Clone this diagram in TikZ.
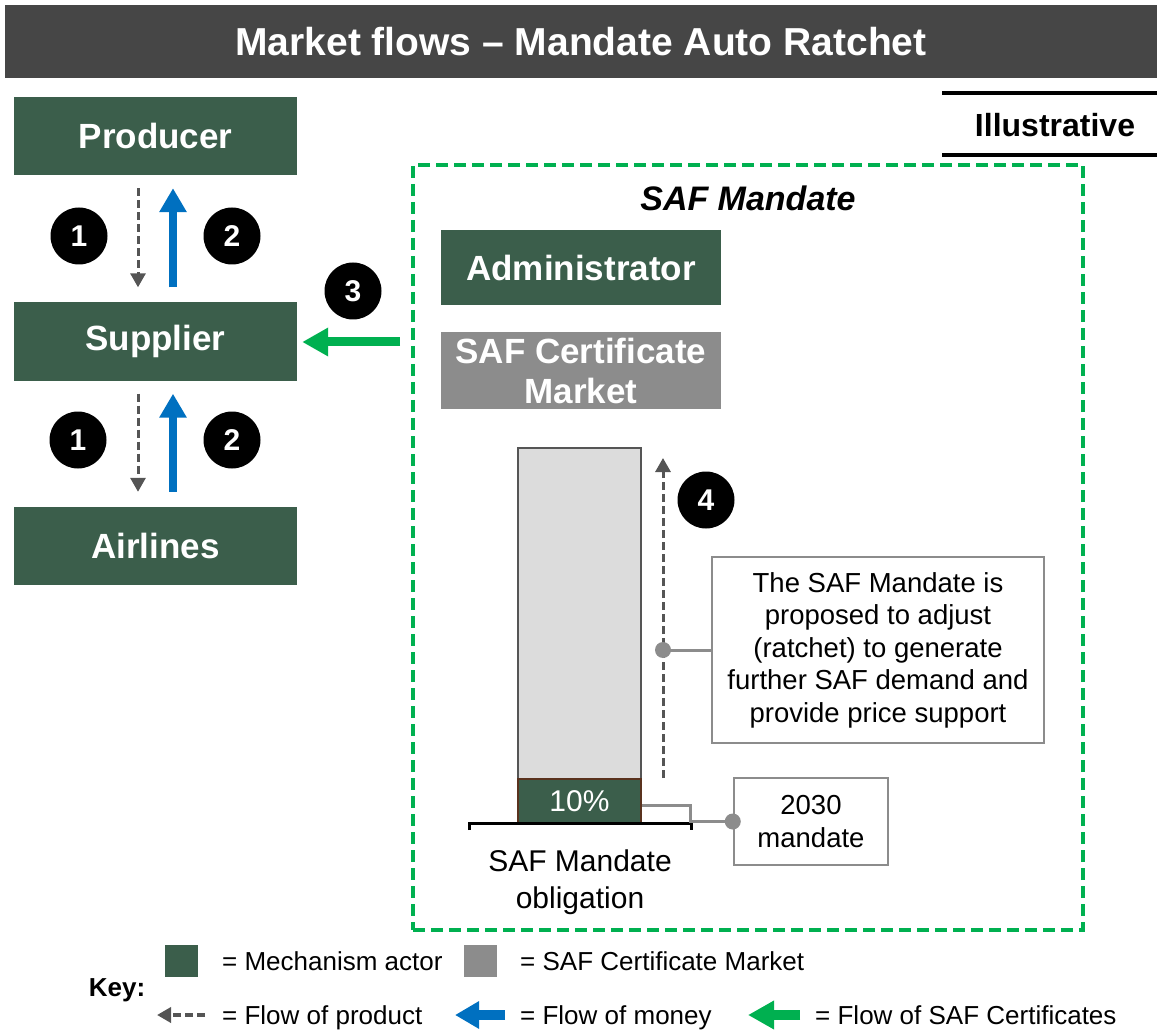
\documentclass[tikz,border=0pt]{standalone}
\usepackage{fontspec}
\setmainfont{Liberation Sans}
\usetikzlibrary{arrows.meta,positioning}

\definecolor{actorgreen}{RGB}{59,94,75}
\definecolor{headgray}{RGB}{70,70,70}
\definecolor{certgray}{RGB}{140,140,140}
\definecolor{barfill}{RGB}{220,220,220}
\definecolor{moneyblue}{RGB}{0,112,192}
\definecolor{certgreen}{RGB}{0,176,80}
\definecolor{productgray}{RGB}{85,85,85}
\definecolor{linegray}{RGB}{140,140,140}
\definecolor{barbrown}{RGB}{90,50,30}

\tikzset{
	actor/.style={fill=actorgreen, text=white, minimum width=283pt, minimum height=78pt,
		inner sep=0pt, align=center, font=\fontsize{35}{40}\selectfont\bfseries},
	market/.style={actor, fill=certgray},
	flownum/.style={circle, fill=black, text=white, minimum size=57pt, inner sep=0pt,
		font=\fontsize{30}{30}\selectfont\bfseries},
	product/.style={productgray, line width=3pt, dash pattern=on 8pt off 4pt,
		-{Triangle[width=15pt,length=14pt]}},
	money/.style={moneyblue, line width=8pt, -{Triangle[width=26pt,length=24pt]}},
	certflow/.style={certgreen, line width=9pt, -{Triangle[width=27pt,length=26pt]}},
	notebox/.style={draw=linegray, line width=2.5pt, fill=white, align=center,
		inner sep=0pt, font=\fontsize{27.5}{32.5}\selectfont},
	pointer/.style={linegray, line width=3pt},
	keytext/.style={anchor=west, inner sep=0pt, text height=18.6pt, text depth=0pt,
		font=\fontsize{26}{30}\selectfont},
	keybox/.style={minimum width=33pt, minimum height=32pt, inner sep=0pt},
}

\begin{document}
\begin{tikzpicture}[x=1pt,y=-1pt]
	\useasboundingbox (0,0) rectangle (1157,1032);
	% header
	\node [fill=headgray, text=white, minimum width=1152pt, minimum height=73pt,
		font=\fontsize{39}{39}\selectfont\bfseries] (title) at (581,41.5)
		{Market flows -- Mandate Auto Ratchet};
	\node [font=\fontsize{32}{32}\selectfont\bfseries] (illus) at (1055,125) {Illustrative};
	\draw [line width=4pt] (942,93) -- (1157,93) (942,155) -- (1157,155);
	% chain of actors
	\node [actor] (producer) at (155.5,136) {Producer};
	\node [actor] (supplier) at (155.5,341.5) {Supplier};
	\node [actor] (airlines) at (155.5,546) {Airlines};
	\foreach \a/\b in {producer/supplier,supplier/airlines} {
		\draw [product, shorten <=13pt, shorten >=15pt]
			([xshift=-17.5pt]\a.south) -- ([xshift=-17.5pt]\b.north);
		\draw [money, shorten <=15pt, shorten >=13pt]
			([xshift=17.5pt]\b.north) -- ([xshift=17.5pt]\a.south);
	}
	% mandate
	\node [draw=certgreen, line width=4pt, dash pattern=on 12pt off 6pt,
		minimum width=670pt, minimum height=765pt] (mandatebox) at (748,547.5) {};
	\node [font=\fontsize{34}{34}\selectfont\bfseries\itshape] (mandatetitle) at (748,198) {SAF Mandate};
	\node [actor, minimum width=280pt, minimum height=75pt] (admin) at (581,267.5) {Administrator};
	\node [market, minimum width=280pt, minimum height=77pt] (market) at (581,370.5)
		{SAF Certificate\\Market};
	\coordinate (certsrc) at (400,342);
	\draw [certflow, shorten >=5pt] (certsrc) -- (supplier.east |- certsrc);
	% bar
	\node [draw=productgray, fill=barfill, line width=2pt, minimum width=123pt,
		minimum height=375pt, inner sep=0pt] (bar) at (579.5,635.5) {};
	\node [fill=actorgreen, draw=barbrown, line width=2pt, minimum width=123pt,
		minimum height=44pt, inner sep=0pt, text=white,
		font=\fontsize{30}{30}\selectfont] (mandate) at (579.5,801) {10\%};
	\draw [line width=3pt] (469,830) -- (469,823) -- (691,823) -- (691,830);
	\node [align=center, font=\fontsize{30}{37}\selectfont] (obligation) at (580,882)
		{SAF Mandate\\obligation};
	\coordinate (rise-bot) at (663,778);
	\coordinate (rise-top) at (663,458);
	\draw [product] (rise-bot) -- (rise-top);
	\node [notebox, minimum width=332pt, minimum height=186pt] (note) at (878,650)
		{The SAF Mandate is\\proposed to adjust\\(ratchet) to generate\\further SAF demand and\\provide price support};
	\node [notebox, minimum width=154pt, minimum height=87pt] (year) at (811,821.5)
		{2030\\mandate};
	\draw [pointer] (note.west) -- (note.west -| rise-bot);
	\fill [linegray] (note.west -| rise-bot) circle [radius=8pt];
	\draw [pointer] ([yshift=-4pt]mandate.east) -- ++(48,0) |- (year.west);
	\fill [linegray] (year.west) circle [radius=8pt];
	% numbers
	\foreach \n/\x/\y [count=\i] in {1/79/236,2/232/236,1/78/440,2/232/440,3/353/291,4/706/500}
		\node [flownum] (flow-\i) at (\x,\y) {\n};
	% key
	\node [font=\fontsize{26}{26}\selectfont\bfseries] (keylabel) at (117,990) {Key:};
	\node [keybox, fill=actorgreen] (key-actor) at (181.5,961) {};
	\node [keytext] (key-actor-txt) at (222,961) {= Mechanism actor};
	\node [keybox, fill=certgray] (key-market) at (480,961) {};
	\node [keytext] (key-market-txt) at (520,961) {= SAF Certificate Market};
	\node [keytext] (key-product) at (222,1015) {= Flow of product};
	\node [keytext] (key-money) at (520,1015) {= Flow of money};
	\node [keytext] (key-cert) at (815,1015) {= Flow of SAF Certificates};
	\draw [product, line width=4pt] ([xshift=-17pt]key-product.west) -- ++(-48,0);
	\draw [money, line width=10pt] ([xshift=-15pt]key-money.west) -- ++(-50,0);
	\draw [certflow, line width=10pt] ([xshift=-15pt]key-cert.west) -- ++(-52,0);
\end{tikzpicture}
\end{document}
